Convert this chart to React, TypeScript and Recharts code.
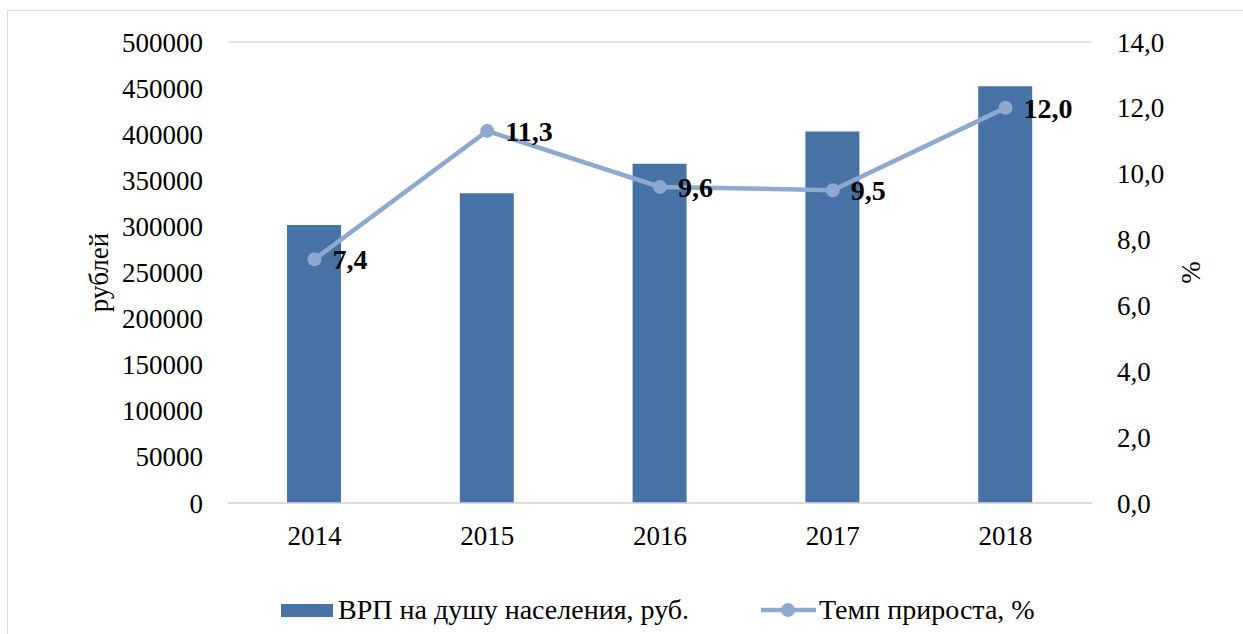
import React from 'react';
import { ComposedChart, Bar, Line, XAxis, YAxis, CartesianGrid, LabelList, Label } from 'recharts';

const years = ['2014', '2015', '2016', '2017', '2018'];
const grpPerCapita = [301500, 336000, 368000, 403000, 452000];
const growthRate = [7.4, 11.3, 9.6, 9.5, 12.0];
const leftTicks = [0, 50000, 100000, 150000, 200000, 250000, 300000, 350000, 400000, 450000, 500000];
const rightTicks = [0, 2, 4, 6, 8, 10, 12, 14];
const seriesNames = ['ВРП на душу населения, руб.', 'Темп прироста, %'];

const BAR_COLOR = '#4672A6';
const LINE_COLOR = '#8EA8CF';
const FONT = '"Liberation Serif", "Times New Roman", serif';

const data = years.map((year, i) => ({ year, grp: grpPerCapita[i], rate: growthRate[i] }));

const comma = (v: number) => v.toFixed(1).replace('.', ',');

const App: React.FC = () => {
  const tickStyle = { fontSize: 27, fill: '#000', fontFamily: FONT };
  return (
    <div style={{ position: 'absolute', left: 0, top: 0, width: 1243, height: 634, background: '#fff', overflow: 'hidden', fontFamily: FONT }}>
      <div style={{ position: 'absolute', left: 7, top: 10, width: 1300, height: 700, border: '1.5px solid #d9d9d9' }} />
      <ComposedChart width={1243} height={634} data={data} margin={{ top: 42, right: 31, bottom: 91, left: 88 }}>
        <CartesianGrid vertical={false} stroke="#d9d9d9" strokeWidth={1.5} />
        <XAxis dataKey="year" height={40} tickSize={0} tickMargin={23} axisLine={{ stroke: '#d9d9d9', strokeWidth: 1.5 }} tick={tickStyle} />
        <YAxis yAxisId="left" width={140} domain={[0, 500000]} ticks={leftTicks} interval={0} tickSize={0} tickMargin={25} axisLine={false} tick={tickStyle}>
          <Label value="рублей" angle={-90} position="center" dx={-60} style={{ fontSize: 27, fill: '#000', fontFamily: FONT }} />
        </YAxis>
        <YAxis yAxisId="right" orientation="right" width={120} domain={[0, 14]} ticks={rightTicks} interval={0} tickSize={0} tickMargin={25} axisLine={false} tick={tickStyle} tickFormatter={comma}>
          <Label value="%" angle={-90} position="center" dx={38} style={{ fontSize: 27, fill: '#000', fontFamily: FONT }} />
        </YAxis>
        <Bar yAxisId="left" dataKey="grp" name={seriesNames[0]} fill={BAR_COLOR} barSize={54} isAnimationActive={false} />
        <Line yAxisId="right" dataKey="rate" name={seriesNames[1]} stroke={LINE_COLOR} strokeWidth={4.5} dot={{ r: 7, fill: LINE_COLOR, stroke: 'none' }} isAnimationActive={false}>
          <LabelList dataKey="rate" position="right" offset={18} formatter={(v: any) => comma(Number(v))} style={{ fontSize: 28, fontWeight: 'bold', fill: '#000', fontFamily: FONT }} />
        </Line>
      </ComposedChart>
      <div style={{ position: 'absolute', left: 281, top: 594, display: 'flex', alignItems: 'center', fontSize: 28, color: '#000', whiteSpace: 'nowrap' }}>
        <span style={{ display: 'inline-block', width: 52, height: 13, background: BAR_COLOR, marginRight: 5 }} />
        <span>{seriesNames[0]}</span>
        <svg width={55} height={16} style={{ marginLeft: 72, marginRight: 3 }}>
          <line x1={0} y1={8} x2={55} y2={8} stroke={LINE_COLOR} strokeWidth={4.5} />
          <circle cx={27} cy={8} r={7} fill={LINE_COLOR} />
        </svg>
        <span>{seriesNames[1]}</span>
      </div>
    </div>
  );
};

export default App;
